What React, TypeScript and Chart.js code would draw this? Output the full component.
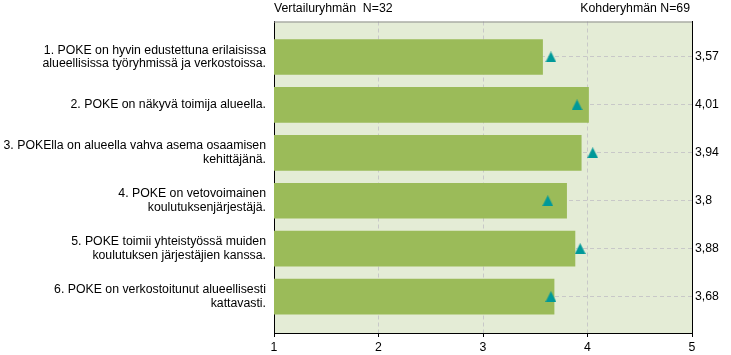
import React, { useEffect, useRef } from "react";
import { Chart, registerables } from "chart.js";

Chart.register(...registerables);

const categories: string[][] = [
  ["1. POKE on hyvin edustettuna erilaisissa", "alueellisissa työryhmissä ja verkostoissa."],
  ["2. POKE on näkyvä toimija alueella."],
  ["3. POKElla on alueella vahva asema osaamisen", "kehittäjänä."],
  ["4. POKE on vetovoimainen", "koulutuksenjärjestäjä."],
  ["5. POKE toimii yhteistyössä muiden", "koulutuksen järjestäjien kanssa."],
  ["6. POKE on verkostoitunut alueellisesti", "kattavasti."],
];
const targetValues: number[] = [3.57, 4.01, 3.94, 3.8, 3.88, 3.68];
const comparisonValues: number[] = [3.65, 3.9, 4.05, 3.62, 3.93, 3.65];
const valueLabels: string[] = ["3,57", "4,01", "3,94", "3,8", "3,88", "3,68"];
const xTicks: number[] = [1, 2, 3, 4, 5];
const leftTitle = "Vertailuryhmän  N=32";
const rightTitle = "Kohderyhmän N=69";

const FONT = "'Liberation Sans', Arial, sans-serif";
const FSIZE = 12.3;

function makeTriangle(color: string): HTMLCanvasElement {
  const c = document.createElement("canvas");
  c.width = 11;
  c.height = 11;
  const g = c.getContext("2d")!;
  g.fillStyle = color;
  g.beginPath();
  g.moveTo(5.5, 0);
  g.lineTo(11, 11);
  g.lineTo(0, 11);
  g.closePath();
  g.fill();
  return c;
}

export default function App() {
  const ref = useRef<HTMLCanvasElement | null>(null);
  useEffect(() => {
    document.body.style.margin = "0";
    const canvas = ref.current!;
    const tri = makeTriangle("#009999");
    const setCatTicks = (scale: any) => {
      scale.ticks = categories.map((_, i) => ({ value: i + 1 }));
    };
    const titlePlugin = {
      id: "titles",
      afterDraw(chart: any) {
        const { ctx, chartArea } = chart;
        ctx.save();
        ctx.strokeStyle = "#8c8c8c";
        ctx.lineWidth = 1;
        ctx.beginPath();
        ctx.moveTo(chartArea.left, chartArea.top + 0.5);
        ctx.lineTo(chartArea.right, chartArea.top + 0.5);
        ctx.stroke();
        ctx.fillStyle = "#000";
        ctx.font = `${FSIZE}px ${FONT}`;
        ctx.textBaseline = "middle";
        ctx.textAlign = "left";
        ctx.fillText(leftTitle, chartArea.left, 9);
        ctx.textAlign = "right";
        ctx.fillText(rightTitle, chartArea.right - 2, 9);
        ctx.restore();
      },
    };
    const bgPlugin = {
      id: "bg",
      beforeDraw(chart: any) {
        const { ctx, chartArea } = chart;
        ctx.save();
        ctx.fillStyle = "#e4ecd6";
        ctx.fillRect(chartArea.left, chartArea.top, chartArea.right - chartArea.left, chartArea.bottom - chartArea.top);
        ctx.restore();
      },
    };
    const chart = new Chart(canvas, {
      type: "bar",
      data: {
        datasets: [
          {
            type: "line",
            label: leftTitle,
            data: comparisonValues.map((v, i) => ({ x: v, y: i + 1 })),
            showLine: false,
            pointStyle: tri,
            pointRadius: 6,
            backgroundColor: "#009999",
            borderColor: "#009999",
            indexAxis: "y",
            yAxisID: "y",
            order: 1,
          } as any,
          {
            type: "bar",
            label: rightTitle,
            data: targetValues.map((v, i) => ({ x: v, y: i + 1 })),
            backgroundColor: "#9bbb59",
            borderWidth: 0,
            barThickness: 35,
            indexAxis: "y",
            yAxisID: "y",
            order: 2,
          } as any,
        ],
      },
      options: {
        indexAxis: "y",
        animation: false,
        responsive: false,
        devicePixelRatio: 1,
        layout: { padding: { top: 21, left: 0, right: 0, bottom: 0 } },
        plugins: { legend: { display: false }, tooltip: { enabled: false } },
        scales: {
          x: {
            type: "linear",
            position: "bottom",
            min: 1,
            max: 5,
            offset: false,
            afterBuildTicks: (scale: any) => {
              scale.ticks = xTicks.map((v) => ({ value: v }));
            },
            afterFit: (scale: any) => {
              scale.height = 22;
            },
            ticks: { color: "#000", font: { family: FONT, size: FSIZE }, padding: 3, maxRotation: 0 },
            grid: {
              offset: false,
              color: (ctx: any) => (ctx.tick && (ctx.tick.value === 1 || ctx.tick.value === 5) ? "rgba(0,0,0,0)" : "#c8c8c8"),
              tickColor: "#000",
              tickLength: 4,
              tickBorderDash: [],
            },
            border: { color: "#000", width: 1, dash: [4, 3] },
          },
          y: {
            type: "linear",
            position: "left",
            reverse: true,
            min: 0.26,
            max: 6.76,
            offset: false,
            afterBuildTicks: setCatTicks,
            afterFit: (scale: any) => {
              scale.width = 274;
            },
            ticks: {
              color: "#000",
              font: { family: FONT, size: FSIZE, lineHeight: "13.5px" },
              padding: 8,
              callback: (v: any) => categories[Math.round(v) - 1] || "",
            },
            grid: { offset: false, color: "#c8c8c8", drawTicks: false },
            border: { color: "#000", width: 1, dash: [4, 3] },
          },
          y2: {
            type: "linear",
            position: "right",
            reverse: true,
            min: 0.26,
            max: 6.76,
            offset: false,
            afterBuildTicks: setCatTicks,
            afterFit: (scale: any) => {
              scale.width = 39;
            },
            ticks: {
              color: "#000",
              font: { family: FONT, size: FSIZE },
              padding: 3,
              callback: (v: any) => valueLabels[Math.round(v) - 1] || "",
            },
            grid: { offset: false, drawOnChartArea: false, drawTicks: false },
            border: { color: "#000", width: 1 },
          },
        },
      } as any,
      plugins: [bgPlugin, titlePlugin],
    });
    return () => chart.destroy();
  }, []);
  return <canvas ref={ref} width={731} height={355} style={{ display: "block" }} />;
}
